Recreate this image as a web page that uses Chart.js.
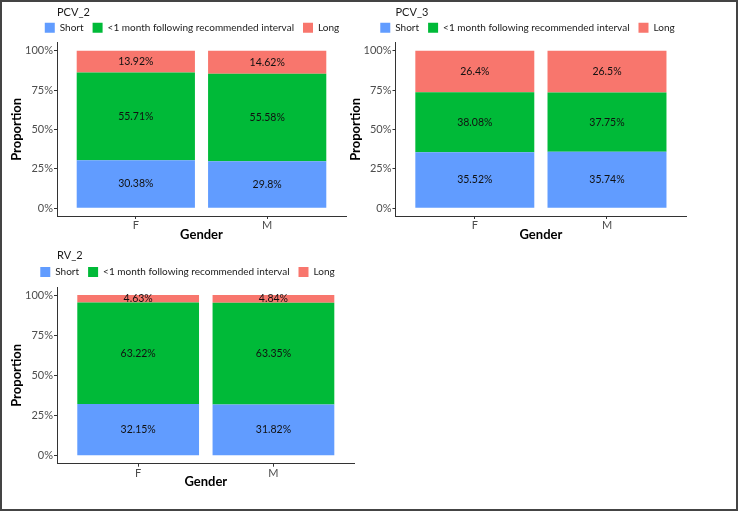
<!DOCTYPE html>
<html>
<head>
<meta charset="utf-8">
<script src="https://cdn.jsdelivr.net/npm/chart.js@4/dist/chart.umd.min.js"></script>
<style>
  body { margin: 0; background: #fff; }
  #frame { position: absolute; left: 0; top: 0; width: 734px; height: 507px; border: 2px solid #444; }
  canvas { position: absolute; }
</style>
</head>
<body>
<div id="frame"></div>
<canvas id="pcv2" width="384" height="250" style="left:0px;top:0px"></canvas>
<canvas id="pcv3" width="377" height="250" style="left:339px;top:0px"></canvas>
<canvas id="rv2" width="375" height="270" style="left:0px;top:240px"></canvas>
<script>
const Genders = ["F", "M"];
const SeriesNames = ["Short", "<1 month following recommended interval", "Long"];
const SeriesColors = ["#619CFF", "#00BA38", "#F8766D"];
const YTicks = [0, 25, 50, 75, 100];

const PCV2_Short = [30.38, 29.8];
const PCV2_Mid = [55.71, 55.58];
const PCV2_Long = [13.92, 14.62];

const PCV3_Short = [35.52, 35.74];
const PCV3_Mid = [38.08, 37.75];
const PCV3_Long = [26.4, 26.5];

const RV2_Short = [32.15, 31.82];
const RV2_Mid = [63.22, 63.35];
const RV2_Long = [4.63, 4.84];

const FontFamily = "Lato";

// writes the percentage in the middle of every stacked segment
const barLabels = {
    id: "barLabels",
    afterDatasetsDraw(chart) {
        const ctx = chart.ctx;
        ctx.save();
        ctx.font = "10.5px " + FontFamily;
        ctx.fillStyle = "#111";
        ctx.textAlign = "center";
        ctx.textBaseline = "middle";
        chart.data.datasets.forEach((ds, i) => {
            chart.getDatasetMeta(i).data.forEach((bar, j) => {
                ctx.fillText(ds.data[j].y + "%", bar.x, (bar.y + bar.base) / 2);
            });
        });
        ctx.restore();
    }
};

const makeChart = (id, title, series, g) => {

    var canvas = document.getElementById(id);
    var W = canvas.width;
    var H = canvas.height;

    var datasets = series.map((values, i) => ({
        label: SeriesNames[i],
        data: values.map((v, j) => ({ x: j, y: v })),
        backgroundColor: SeriesColors[i],
        borderWidth: 0,
        categoryPercentage: 1,
        barPercentage: 0.9
    }));

    var config = {
        type: "bar",
        data: { datasets: datasets },
        plugins: [barLabels],
        options: {
            responsive: false,
            animation: false,
            layout: { padding: 0 },
            plugins: {
                tooltip: { enabled: false },
                title: {
                    display: true,
                    text: title,
                    align: "start",
                    fullSize: false,
                    color: "#1a1a1a",
                    font: { family: FontFamily, size: 11, weight: "normal" },
                    padding: { top: g.titleY - 6.6, bottom: g.legendY - 5 - 9 - g.titleY - 6.6 }
                },
                legend: {
                    position: "top",
                    align: "center",
                    labels: {
                        boxWidth: 10,
                        boxHeight: 10,
                        padding: 9,
                        color: "#1a1a1a",
                        font: { family: FontFamily, size: 10 }
                    }
                }
            },
            scales: {
                x: {
                    type: "linear",
                    stacked: true,
                    offset: false,
                    min: -0.6,
                    max: 1.6,
                    afterBuildTicks: (s) => { s.ticks = Genders.map((c, i) => ({ value: i })); },
                    afterFit: (s) => { s.height = H - g.bottom; s.paddingRight = W - g.right; s.paddingLeft = 0; },
                    ticks: {
                        color: "#4d4d4d",
                        padding: 0,
                        font: { family: FontFamily, size: 11 },
                        callback: (v) => Genders[v]
                    },
                    grid: { offset: false, drawOnChartArea: false, drawTicks: true, tickLength: 3, color: "#333" },
                    border: { display: true, color: "#333", width: 1 },
                    title: {
                        display: true,
                        text: "Gender",
                        color: "#000",
                        font: { family: FontFamily, size: 13, weight: "bold" },
                        padding: { top: 0, bottom: g.genderPad }
                    }
                },
                y: {
                    stacked: true,
                    min: -5,
                    max: 105,
                    afterBuildTicks: (s) => { s.ticks = YTicks.map((v) => ({ value: v })); },
                    afterFit: (s) => { s.width = g.left; s.paddingTop = g.top; s.paddingBottom = 0; },
                    ticks: {
                        color: "#4d4d4d",
                        padding: 1,
                        font: { family: FontFamily, size: 11 },
                        callback: (v) => v + "%"
                    },
                    grid: { drawOnChartArea: false, drawTicks: true, tickLength: 3, color: "#333" },
                    border: { display: true, color: "#333", width: 1 },
                    title: {
                        display: true,
                        text: "Proportion",
                        color: "#000",
                        font: { family: FontFamily, size: 13, weight: "bold" },
                        padding: { top: 9.2, bottom: 0 }
                    }
                }
            }
        }
    };

    return new Chart(canvas, config);
};

makeChart("pcv2", "PCV_2", [PCV2_Short, PCV2_Mid, PCV2_Long],
    { left: 57, right: 346, top: 42.8, bottom: 216, titleY: 7.5, legendY: 22.5, genderPad: 7.2 });
makeChart("pcv3", "PCV_3", [PCV3_Short, PCV3_Mid, PCV3_Long],
    { left: 56.5, right: 347.3, top: 42.8, bottom: 216, titleY: 7.5, legendY: 22.5, genderPad: 7.2 });
makeChart("rv2", "RV_2", [RV2_Short, RV2_Mid, RV2_Long],
    { left: 57, right: 354.6, top: 47, bottom: 223.7, titleY: 10.5, legendY: 27, genderPad: 20.2 });
</script>
</body>
</html>
